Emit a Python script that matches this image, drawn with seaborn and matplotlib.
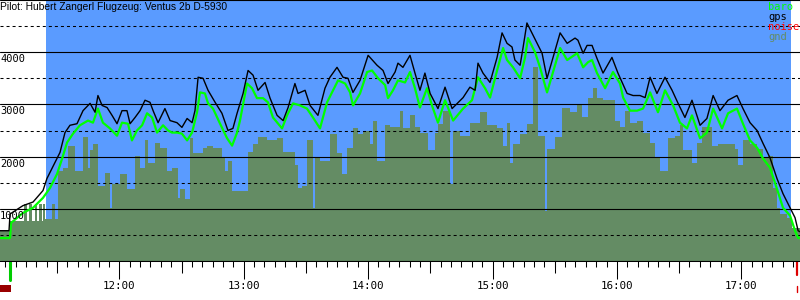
import numpy as np
import pandas as pd
import seaborn as sns
import matplotlib.pyplot as plt
import matplotlib.transforms as mtransforms
from matplotlib.patches import Rectangle
from matplotlib.ticker import FixedLocator, MultipleLocator

# time axis in minutes after 11:00
gps_t = [2.5, 6.8, 7.3, 13.5, 18.4, 23.2, 25.1, 28.0, 31.4, 33.8, 36.2, 39.6, 42.5, 45.9,
         48.3, 49.7, 51.7, 54.1, 56.5, 58.9, 61.3, 63.7, 65.2, 67.6, 70.0, 72.4, 74.8,
         76.3, 78.7, 82.0, 84.5, 87.8, 90.2, 92.7, 95.1, 96.5, 98.0, 100.4, 102.8, 106.2,
         109.5, 112.4, 114.8, 116.8, 119.7, 122.1, 124.5, 126.9, 130.3, 132.7, 136.1,
         139.0, 141.4, 144.7, 146.2, 149.6, 152.0, 155.8, 159.2, 161.6, 165.0, 167.9,
         170.3, 172.7, 176.1, 180.0, 184.3, 187.2, 189.6, 193.0, 194.4, 196.8, 200.2,
         202.6, 205.0, 207.4, 209.9, 213.7, 217.1, 220.5, 225.8, 229.1, 231.6, 233.0,
         235.4, 238.8, 242.2, 244.6, 247.0, 249.4, 250.8, 253.3, 254.7, 256.6, 259.5,
         263.9, 266.3, 269.2, 272.6, 276.0, 279.8, 281.2, 283.7, 285.6, 288.0, 290.4,
         293.3, 297.6, 300.5, 304.9, 307.8, 311.1, 313.6, 316.0, 319.3, 323.2, 326.6,
         329.5, 332.8, 336.2, 340.1, 343.4, 346.4, 349.7, 353.6, 357.9, 360.8, 364.2,
         367.6, 370.5, 373.8, 377.2, 380.1, 383.5, 385.9, 387.4, 388.3]
gps_alt = [580, 580, 900, 1060, 1130, 1350, 1580, 1810, 2080, 2460, 2600, 2630, 2880, 3020,
           2850, 3170, 2980, 2940, 2790, 2630, 2880, 2880, 2630, 2750, 2880, 3080, 3040,
           2880, 2650, 2920, 2690, 2650, 2560, 2730, 2650, 2880, 3520, 3500, 3270, 3040,
           2830, 2500, 2540, 2830, 3210, 3650, 3560, 3270, 3420, 3120, 2790,
           2690, 2940, 3400, 3210, 3270, 2980, 2790, 3310, 3520, 3710, 3520,
           3500, 3230, 3460, 3940, 3750, 3650, 3400, 3620, 3790, 3710, 3940,
           3600, 3270, 3600, 3210, 2920, 3330, 2920, 3130, 3330, 3270, 3790,
           3600, 3420, 3900, 4370, 4170, 4100, 3850, 3750, 4080, 4560, 4330,
           3980, 3500, 3900, 4370, 4170, 4270, 4230, 3980, 4130, 4130, 3880,
           3600, 3900, 3600, 3210, 3170, 3170, 3130, 3520, 3210, 3520, 3270,
           3020, 2750, 3080, 2600, 2730, 3170, 2880, 3080, 3170, 2920, 2650,
           2500, 2250, 1980, 1580, 1290, 1020, 830, 580, 560]

baro_t = [2.5, 7.3, 7.8, 13.5, 18.4, 23.2, 26.6, 30.0, 32.4, 34.8, 37.7, 41.0, 44.9, 47.3,
          49.7, 52.1, 55.5, 58.9, 61.3, 64.2, 66.1, 68.5, 71.0, 73.4, 75.8, 78.2, 81.1,
          83.5, 85.4, 87.8, 90.2, 92.7, 95.1, 97.5, 98.9, 101.3, 102.8, 105.2, 108.6,
          112.0, 114.4, 116.8, 118.2, 121.6, 124.0, 126.4, 129.3, 131.7, 134.1, 138.5,
          140.9, 143.8, 147.2, 150.5, 153.4, 156.8, 160.2, 163.1, 165.5, 168.9, 171.3,
          172.7, 176.1, 179.5, 181.9, 184.8, 188.2, 189.6, 192.0, 194.4, 197.8, 200.2,
          202.6, 205.0, 208.4, 210.8, 213.7, 217.1, 221.0, 225.8, 230.1, 233.0, 236.4,
          238.8, 242.2, 245.1, 247.0, 249.9, 253.3, 255.7, 257.1, 260.5, 262.9, 266.3,
          269.2, 272.6, 276.0, 280.8, 283.7, 286.1, 288.0, 290.4, 294.3, 298.1, 301.5,
          303.0, 306.3, 309.7, 312.6, 316.0, 319.8, 323.2, 327.1, 330.4, 333.8, 336.2,
          340.1, 343.4, 346.4, 350.7, 353.6, 357.9, 360.8, 364.2, 367.6, 370.5, 373.8,
          377.2, 380.1, 383.5, 385.9, 387.4, 388.3]
baro_alt = [440, 440, 730, 920, 1020, 1210, 1400, 1670, 1960, 2270, 2440, 2600, 2690, 2650,
            2920, 2650, 2540, 2400, 2650, 2630, 2310, 2500, 2600, 2830, 2750, 2460, 2600,
            2500, 2460, 2460, 2440, 2310, 2460, 2850, 3230, 3210, 3020, 2920, 2630,
            2350, 2210, 2460, 2690, 3400, 3310, 3120, 3120, 3040, 2750, 2540,
            2790, 3020, 2980, 2920, 2750, 2540, 3040, 3270, 3460, 3400, 3230,
            2980, 3210, 3620, 3650, 3500, 3370, 3120, 3270, 3460, 3420, 3620,
            3310, 2940, 3310, 2980, 2650, 3080, 2690, 2920, 3080, 3520, 3310,
            3130, 3650, 4080, 3850, 3710, 3500, 3900, 4270, 4000, 3710, 3230,
            3620, 4080, 3850, 3980, 3710, 3810, 3850, 3600, 3310, 3620, 3400,
            3130, 2880, 2880, 2920, 3230, 2850, 3270, 2980, 2650, 2540, 2790,
            2350, 2460, 2920, 2540, 2830, 2920, 2630, 2310, 2170, 1960, 1790,
            1380, 1020, 870, 580, 440, 440]

# terrain below the track, stepwise
gnd_t = [2.5, 7.3, 14.0, 15.5, 16.4, 17.9, 19.3, 20.3, 21.3, 22.7, 23.2, 24.2, 25.1, 27.5,
         29.0, 30.4, 32.9, 35.3, 38.6, 42.5, 44.9, 45.9, 47.3, 49.7, 53.1, 55.5, 56.5,
         60.3, 63.7, 67.6, 70.0, 72.4, 73.8, 77.2, 79.6, 83.0, 85.4, 88.3, 89.3, 91.7,
         94.1, 95.5, 100.4, 102.3, 105.2, 109.5, 111.0, 112.4, 114.4, 122.1, 124.5,
         126.9, 131.2, 136.1, 139.0, 144.7, 146.2, 148.1, 150.5, 153.4, 154.4, 156.8,
         161.6, 165.0, 167.4, 169.8, 172.7, 175.1, 177.5, 180.9, 182.4, 184.3, 188.2,
         190.6, 195.4, 196.8, 200.2, 202.6, 205.0, 208.9, 212.3, 213.7, 216.1, 219.5,
         221.0, 224.3, 229.1, 234.0, 237.3, 242.2, 245.1, 247.0, 248.4, 249.9, 253.3,
         256.6, 259.5, 262.0, 265.3, 266.3, 270.1, 273.5, 277.4, 280.8, 283.2, 286.1,
         288.5, 290.4, 293.3, 298.1, 299.1, 301.5, 303.9, 306.3, 309.7, 312.6, 316.0,
         318.4, 320.8, 324.6, 328.0, 330.4, 331.9, 336.2, 338.6, 341.0, 345.9, 348.8,
         357.0, 358.4, 360.8, 364.2, 367.6, 370.5, 372.9, 375.3, 377.2, 378.7, 382.0,
         384.4, 388.3]
gnd_alt = [580, 770, 1100, 770, 1100, 770, 1100, 770, 1100, 770, 1100, 810, 810, 1100,
           810, 1730, 1790, 2210, 1730, 2370, 1790, 2120, 2250, 1440, 1690, 1020, 1480,
           1670, 1380, 2020, 1790, 2310, 1870, 2270, 2170, 1730, 1790, 1210, 1380, 1190,
           2350, 2060, 2170, 2210, 2170, 1980, 1730, 1920, 1350, 2080, 2250,
           2370, 2310, 2350, 2080, 1830, 1400, 1440, 2310, 1020, 1980, 1920,
           2440, 2060, 1670, 2170, 2540, 2440, 2500, 2250, 2690, 1920, 2600,
           2560, 2880, 2540, 2790, 2560, 2460, 2120, 2460, 2630, 2880, 1480,
           2500, 2400, 2650, 2850, 2600, 2540, 2210, 2650, 1870, 2250, 2440,
           2630, 3710, 2400, 960, 2150, 2370, 2940, 2850, 2980, 2750, 3130,
           3310, 3130, 3080, 3080, 2690, 2560, 2880, 2650, 2690, 2460, 2270,
           1980, 1730, 2350, 2400, 2600, 2120, 1880, 2270, 2560, 2210, 2250,
           2150, 1830, 2310, 2250, 2150, 1980, 2020, 1400, 1020, 900, 830,
           630, 630]

hour_ticks = [60, 120, 180, 240, 300, 360]
hour_labels = ["12:00", "13:00", "14:00", "15:00", "16:00", "17:00"]
alt_labels = [1000, 2000, 3000, 4000]
airborne = (24.6, 384.0)
takeoff_t, landing_t = 7.5, 387.0

legend_names = ["baro", "gps", "noise", "gnd"]
legend_colors = ["#00ff00", "#000000", "#ff0000", "#648c64"]

BLUE = "#5a9bff"
OLIVE = "#648c64"
MONO = "DejaVu Sans Mono"


def plot_barogram():
    sns.set_theme(style="white")
    fig = plt.figure(figsize=(8, 3), dpi=100)
    ax = fig.add_axes([0, 39 / 300, 1, 261 / 300])
    ax.set_facecolor("white")

    ax.axvspan(*airborne, color=BLUE, lw=0, zorder=0)
    ax.fill_between(gnd_t, gnd_alt, step="post", color=OLIVE, lw=0, zorder=1)

    df_gps = pd.DataFrame({"t": gps_t, "alt": gps_alt})
    df_baro = pd.DataFrame({"t": baro_t, "alt": baro_alt})
    sns.lineplot(data=df_baro, x="t", y="alt", ax=ax, color="#00ff00",
                 lw=1.6, estimator=None, sort=False, zorder=3)
    sns.lineplot(data=df_gps, x="t", y="alt", ax=ax, color="black",
                 lw=1.0, estimator=None, sort=False, zorder=4)

    ax.set_xlim(2.46, 388.3)
    ax.set_ylim(0, 5000)

    # horizontal guide lines
    ax.yaxis.set_major_locator(MultipleLocator(1000))
    ax.yaxis.set_minor_locator(MultipleLocator(500))
    ax.grid(which="major", axis="y", color="black", lw=0.8)
    ax.grid(which="minor", axis="y", color="black", lw=0.75, ls=(0, (2.9, 2.9)))
    ax.set_axisbelow(False)
    ax.tick_params(axis="y", which="both", length=0, labelleft=False)

    for v in alt_labels:
        ax.text(0.0, v - 40, str(v), transform=mtransforms.blended_transform_factory(
            ax.transAxes, ax.transData), ha="left", va="top",
            fontsize=7.5, family=MONO, color="black", zorder=5)

    # time axis
    ax.xaxis.set_major_locator(FixedLocator(hour_ticks))
    ax.set_xticklabels(hour_labels)
    ax.xaxis.set_minor_locator(FixedLocator(np.arange(5, 390, 5)))
    ax.tick_params(axis="x", which="major", direction="out", length=13, width=0.75,
                   color="black", pad=1.5, labelsize=7.8, labelcolor="black",
                   bottom=True)
    ax.tick_params(axis="x", which="minor", direction="out", length=4.3, width=0.75,
                   color="black", bottom=True)
    for lab in ax.get_xticklabels():
        lab.set_family(MONO)
    trans_xa = mtransforms.blended_transform_factory(ax.transData, ax.transAxes)
    ax.vlines([h - 30 for h in hour_ticks] + [hour_ticks[-1] + 30], 0, -12 / 261,
              transform=trans_xa, color="black", lw=0.75, clip_on=False)

    for s in ["top", "left", "right"]:
        ax.spines[s].set_visible(False)
    ax.spines["bottom"].set_color("black")
    ax.spines["bottom"].set_linewidth(0.75)
    ax.set_xlabel("")
    ax.set_ylabel("")

    # takeoff / landing markers
    trans_xf = mtransforms.blended_transform_factory(ax.transData, fig.transFigure)
    ax.add_line(plt.Line2D([takeoff_t, takeoff_t], [1 - 262 / 300, 1 - 280 / 300],
                           transform=trans_xf, color="#00cc00", lw=2.2, clip_on=False))
    ax.add_line(plt.Line2D([landing_t, landing_t], [1 - 262 / 300, 1 - 275 / 300],
                           transform=trans_xf, color="#dd0000", lw=1.6, clip_on=False))
    ax.add_line(plt.Line2D([landing_t, landing_t], [1 - 286 / 300, 1 - 292 / 300],
                           transform=trans_xf, color="#dd0000", lw=1.0, clip_on=False))
    ax.add_patch(Rectangle((2.46, 1 - 292 / 300), takeoff_t + 0.3 - 2.46, 7 / 300,
                           transform=trans_xf, color="#990000", lw=0, clip_on=False))

    fig.text(0.0, 1 - 1.5 / 300, "Pilot: Hubert Zangerl Flugzeug: Ventus 2b D-5930",
             ha="left", va="top", fontsize=7.4, family="Liberation Sans", color="black")
    for i, (name, col) in enumerate(zip(legend_names, legend_colors)):
        fig.text(768 / 800, 1 - (10 + 10 * i) / 300, name, ha="left", va="baseline",
                 fontsize=7.5, family=MONO, color=col)

    fig.savefig("out.png", dpi=100)
    plt.close(fig)


if __name__ == "__main__":
    plot_barogram()
